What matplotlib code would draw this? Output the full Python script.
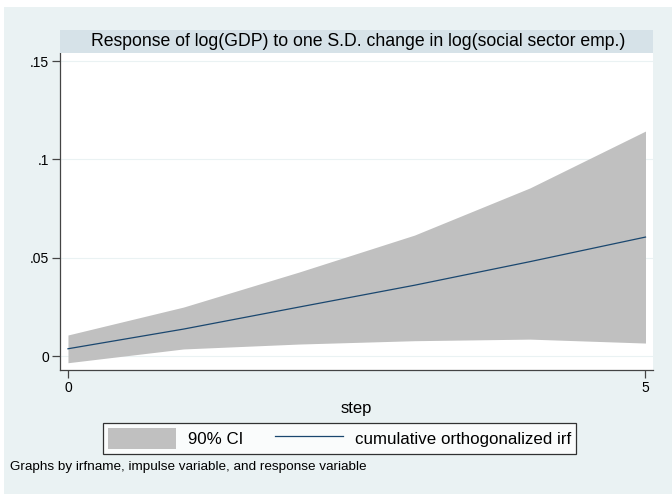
import numpy as np
import matplotlib
matplotlib.use("Agg")
import matplotlib.pyplot as plt
from matplotlib.patches import Rectangle
from matplotlib.lines import Line2D

# irf values
steps = [0, 1, 2, 3, 4, 5]
irf = [0.0037, 0.0137, 0.0249, 0.0360, 0.0480, 0.0605]
ci_upper = [0.0107, 0.0249, 0.0427, 0.0615, 0.0855, 0.1144]
ci_lower = [-0.0034, 0.0036, 0.0061, 0.0078, 0.0086, 0.0066]
y_ticks = [0, 0.05, 0.1, 0.15]
y_labels = ["0", ".05", ".1", ".15"]
x_ticks = [0, 5]

plt.rcParams['font.family'] = ['Liberation Sans', 'DejaVu Sans']

bg = '#eaf2f3'
strip = '#d6e2e8'
navy = '#1a476f'

fig = plt.figure(figsize=(6.72, 4.94), dpi=100)
fig.patch.set_facecolor('white')
# outer graph region (white rim at top and left)
fig.patches.append(Rectangle((4/672, 0), 1, 1 - 7/494, transform=fig.transFigure,
                             facecolor=bg, edgecolor='none', zorder=-10))

ax = fig.add_axes([60/672, 1 - 370/494, 593/672, 317/494])
ax.set_facecolor('white')
ax.fill_between(steps, ci_lower, ci_upper, color='#c0c0c0', linewidth=0, zorder=2)
ax.plot(steps, irf, color=navy, linewidth=0.9, zorder=3)

ax.set_xlim(-0.069, 5.065)
ax.set_ylim(-0.0071, 0.1541)
ax.set_yticks(y_ticks)
ax.set_yticklabels(y_labels)
ax.set_xticks(x_ticks)
ax.grid(axis='y', color=bg, linewidth=0.8, zorder=1)
ax.set_axisbelow(True)
for s in ['top', 'right']:
    ax.spines[s].set_visible(False)
for s in ['left', 'bottom']:
    ax.spines[s].set_color('#444444')
    ax.spines[s].set_linewidth(0.9)
ax.tick_params(direction='out', length=6, width=0.9, color='#444444',
               labelsize=10, pad=2)
ax.set_xlabel('step', fontsize=12, labelpad=4)

# title strip
fig.patches.append(Rectangle((60/672, 1 - 53/494), 593/672, 23/494,
                             transform=fig.transFigure, facecolor=strip,
                             edgecolor='none'))
fig.text(358/672, 1 - 41.5/494,
         'Response of log(GDP) to one S.D. change in log(social sector emp.)',
         ha='center', va='center', fontsize=12.7)

# legend
handles = [Rectangle((0, 0), 1, 1, facecolor='#c0c0c0', edgecolor='none'),
           Line2D([0], [0], color=navy, linewidth=0.9)]
leg = fig.legend(handles, ['90% CI', 'cumulative orthogonalized irf'],
                 loc='center', bbox_to_anchor=(339.5/672, 1 - 438.5/494),
                 ncol=2, fontsize=12.2, frameon=True, fancybox=False,
                 handlelength=4.0, handleheight=1.5, columnspacing=1.9,
                 handletextpad=0.7, borderpad=0.3)
leg.get_frame().set_edgecolor('black')
leg.get_frame().set_linewidth(0.9)
leg.get_frame().set_facecolor('white')

fig.text(10/672, 1 - 467/494, 'Graphs by irfname, impulse variable, and response variable',
         ha='left', va='center', fontsize=9.7)

fig.savefig('out.png', dpi=100, facecolor=fig.get_facecolor())
